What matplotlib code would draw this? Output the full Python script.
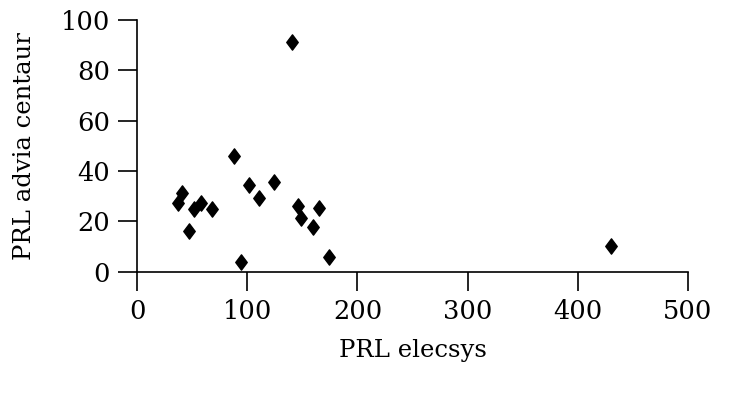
import matplotlib
matplotlib.use("Agg")
import matplotlib.pyplot as plt
from matplotlib.path import Path

# Data
prl_elecsys = [140.2, 88.1, 40.3, 37.2, 51.8, 57.9, 67.6, 47.2, 101.5, 110.3,
               124.4, 94.2, 146.2, 148.7, 165.0, 159.3, 174.1, 430.2]
prl_advia = [91.4, 46.1, 31.1, 27.2, 24.9, 27.2, 24.8, 16.2, 34.4, 29.4,
             35.5, 4.0, 26.1, 21.2, 25.2, 17.6, 6.0, 10.2]
x_ticks = [0, 100, 200, 300, 400, 500]
y_ticks = [0, 20, 40, 60, 80, 100]

plt.rcParams['font.family'] = ['DejaVu Serif']

fig = plt.figure(figsize=(7.3, 4.09), dpi=100)
ax = fig.add_axes([0.1881, 0.3357, 0.9421 - 0.1881, 0.9511 - 0.3357])

diamond = Path([(0, 1), (0.75, 0), (0, -1), (-0.75, 0), (0, 1)],
               [Path.MOVETO, Path.LINETO, Path.LINETO, Path.LINETO, Path.CLOSEPOLY])
ax.plot(prl_elecsys, prl_advia, linestyle='none', marker=diamond,
        markersize=11, color='black', clip_on=False)

ax.set_xlim(0, 500)
ax.set_ylim(0, 100)
ax.set_xticks(x_ticks)
ax.set_yticks(y_ticks)

for side in ['top', 'right']:
    ax.spines[side].set_visible(False)
for side in ['left', 'bottom']:
    ax.spines[side].set_linewidth(1.2)
    ax.spines[side].set_color('black')

ax.tick_params(axis='both', direction='out', length=13.5, width=1.2,
               labelsize=18.5, colors='black')
ax.tick_params(axis='x', pad=6)
ax.tick_params(axis='y', pad=6)

ax.set_xlabel('PRL elecsys', fontsize=17.5, labelpad=11)
ax.set_ylabel('PRL advia centaur', fontsize=17.5, labelpad=18)

fig.savefig('out.png', dpi=100, facecolor='white')
